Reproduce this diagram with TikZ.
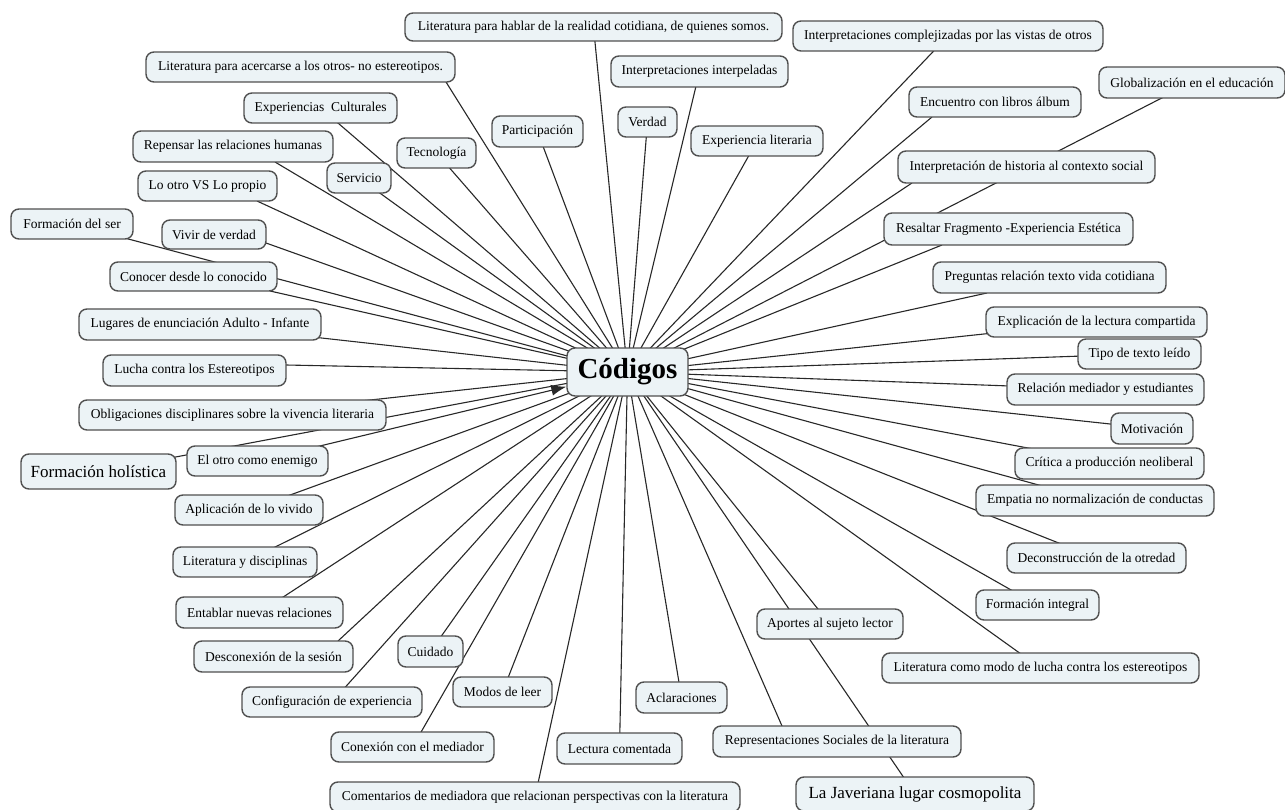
\documentclass[tikz,border=0pt]{standalone}
\usepackage{fontspec}
\setmainfont{Liberation Serif}
\usetikzlibrary{backgrounds,arrows.meta}
\definecolor{boxfill}{RGB}{236,243,246}
\definecolor{boxline}{RGB}{80,80,80}
\definecolor{linkcol}{RGB}{40,40,40}
\tikzset{
  code/.style={draw=boxline, line width=1.4pt, fill=boxfill, rounded corners=8pt,
    inner xsep=4pt, inner ysep=2pt, text=black, font=\fontsize{13.5}{16}\selectfont},
  bigcode/.style={code, font=\fontsize{17}{20}\selectfont},
  hub/.style={code, font=\fontsize{29}{32}\selectfont\bfseries},
  sz/.style n args={2}{minimum width=#1pt, minimum height=#2pt},
  link/.style={draw=linkcol, line width=1.1pt},
}
\begin{document}
\begin{tikzpicture}[x=1pt,y=-1pt]
\useasboundingbox (0,0) rectangle (1285,810);
\clip (0,0) rectangle (1285,810);
% nodes
\node[code,sz={377}{28}] (A) at (593.5,27) {Literatura para hablar de la realidad cotidiana, de quienes somos.};
\node[code,sz={310}{30}] (B) at (948,36) {Interpretaciones complejizadas por las vistas de otros};
\node[code,sz={309}{30}] (C) at (300.5,67) {Literatura para acercarse a los otros- no estereotipos.};
\node[code,sz={177}{31}] (D) at (699.5,71.5) {Interpretaciones interpeladas};
\node[code,sz={153}{30}] (E) at (320.5,108) {Experiencias~ Culturales};
\node[code,sz={172}{30}] (F) at (995,102) {Encuentro con libros álbum};
\node[code,sz={186}{31}] (G) at (1192,82.5) {Globalización en el educación};
\node[code,sz={91}{31}] (H) at (537.5,131.5) {Participación};
\node[code,sz={59}{30}] (I) at (647.5,122) {Verdad};
\node[code,sz={132}{30}] (J) at (757,141) {Experiencia literaria};
\node[code,sz={79}{30}] (K) at (436.5,153) {Tecnología};
\node[code,sz={200}{31}] (L) at (233,146.5) {Repensar las relaciones humanas};
\node[code,sz={64}{30}] (M) at (359,178) {Servicio};
\node[code,sz={257}{32}] (N) at (1026.5,167) {Interpretación de historia al contexto social};
\node[code,sz={139}{30}] (O) at (207.5,186) {Lo otro VS Lo propio};
\node[code,sz={249}{32}] (P) at (1008.5,229) {Resaltar Fragmento -Experiencia Estética};
\node[code,sz={122}{30}] (Q) at (72,224) {Formación del ser};
\node[code,sz={104}{29}] (R) at (214,234.5) {Vivir de verdad};
\node[code,sz={167}{29}] (S) at (193.5,276.5) {Conocer desde lo conocido};
\node[code,sz={233}{31}] (AV) at (1049.5,277.5) {Preguntas relación texto vida cotidiana};
\node[code,sz={242}{31}] (T) at (200,324.5) {Lugares de enunciación Adulto - Infante};
\node[code,sz={221}{30}] (AU) at (1096.5,322) {Explicación de la lectura compartida};
\node[code,sz={123}{30}] (AT) at (1139.5,354) {Tipo de texto leído};
\node[code,sz={183}{31}] (U) at (194.5,370.5) {Lucha contra los Estereotipos};
\node[hub,sz={121}{48}] (cod) at (627.5,372) {Códigos};
\node[code,sz={197}{31}] (AS) at (1105.5,389.5) {Relación mediador y estudiantes};
\node[code,sz={307}{30}] (V) at (232.5,415) {Obligaciones disciplinares sobre la vivencia literaria};
\node[code,sz={82}{31}] (AR) at (1152,428.5) {Motivación};
\node[bigcode,sz={155}{35}] (W) at (98.5,471.5) {Formación holística};
\node[code,sz={141}{30}] (X) at (257.5,461) {El otro como enemigo};
\node[code,sz={189}{31}] (AQ) at (1109.5,463.5) {Crítica a producción neoliberal};
\node[code,sz={238}{31}] (AP) at (1095,500.5) {Empatia no normalización de conductas};
\node[code,sz={148}{30}] (Y) at (249,510) {Aplicación de lo vivido};
\node[code,sz={179}{30}] (AO) at (1096.5,558) {Deconstrucción de la otredad};
\node[code,sz={144}{30}] (Z) at (245,562) {Literatura y disciplinas};
\node[code,sz={123}{30}] (AN) at (1037.5,605) {Formación integral};
\node[code,sz={167}{31}] (AA) at (259.5,612.5) {Entablar nuevas relaciones};
\node[code,sz={146}{30}] (AL) at (830,624) {Aportes al sujeto lector};
\node[code,sz={159}{31}] (AB) at (273.5,656.5) {Desconexión de la sesión};
\node[code,sz={65}{31}] (AD) at (430.5,651.5) {Cuidado};
\node[code,sz={317}{30}] (AM) at (1040.5,668) {Literatura como modo de lucha contra los estereotipos};
\node[code,sz={99}{30}] (AF) at (502.5,692) {Modos de leer};
\node[code,sz={91}{31}] (AI) at (681.5,697.5) {Aclaraciones};
\node[code,sz={180}{30}] (AC) at (332,702) {Configuración de experiencia};
\node[code,sz={248}{31}] (AJ) at (837,741.5) {Representaciones Sociales de la literatura};
\node[code,sz={125}{31}] (AH) at (619.5,748.5) {Lectura comentada};
\node[code,sz={163}{30}] (AE) at (412.5,747) {Conexión con el mediador};
\node[bigcode,sz={238}{34}] (AK) at (915,794) {La Javeriana lugar cosmopolita};
\node[code,sz={410}{30}] (AG) at (535,797) {Comentarios de mediadora que relacionan perspectivas con la literatura};
% connectors
\begin{pgfonlayer}{background}
\fill[white] (0,0) rectangle (1285,810);
\foreach \n in {A,B,D,E,G,H,I,J,K,M,Q,T,V,W,Y,Z,AA,AC,AD,AE,AF,AG,AH,AI,AK,AL,AM,AN,AO,AP,AQ,AR,AS,AT,AU}
  \draw[link] (\n.center) -- (cod.center);
\foreach \n/\dx/\dy in {C/145.5/15, F/-63/15, L/42/15.5, N/-114.5/16, O/49.5/15, P/-66.5/16, R/52/8.5, S/76.5/14.5, AV/-62.5/15.5, U/91.5/-5.5, AB/64.5/-15.5, AJ/-55/-15.5}
  \draw[link] ([shift={(\dx,\dy)}]\n.center) -- (cod.center);
\draw[link,-{Latex[length=15pt,width=11pt]}] (X.center) -- (cod);
\end{pgfonlayer}
\end{tikzpicture}
\end{document}
